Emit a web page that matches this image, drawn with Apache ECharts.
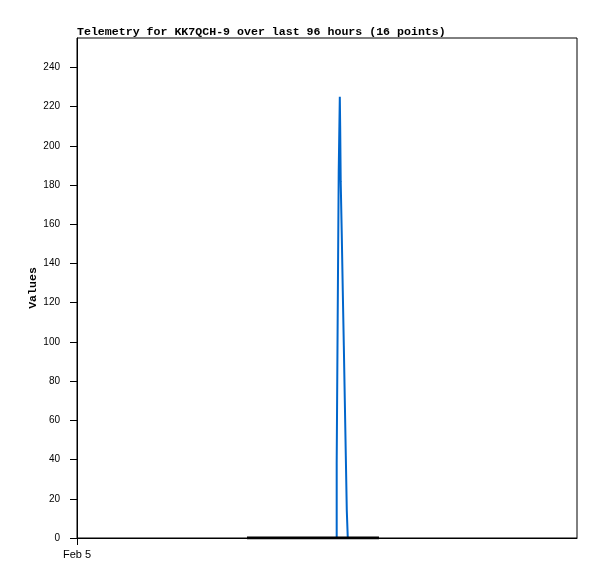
<!DOCTYPE html>
<html>
<head>
<meta charset="utf-8">
<script src="https://cdn.jsdelivr.net/npm/echarts@6/dist/echarts.min.js"></script>
<style>html,body{margin:0;padding:0;background:#fff;}#c{width:597px;height:579px;}</style>
</head>
<body>
<div id="c"></div>
<script>
// hours since window start (Feb 5)
const hours = [32.64, 40.9, 49.86, 50.05, 50.25, 50.46, 50.53, 50.63, 50.84, 51.03, 51.23, 51.42, 51.61, 51.80, 51.99, 57.98];
const blueValues = [0, 0, 38, 112, 187, 225, 210, 182, 154, 126, 98, 70, 42, 14, 0, 0];
const blackValues = [0, 0, 0, 0, 0, 0, 0, 0, 0, 0, 0, 0, 0, 0, 0, 0];
const xLabels = {0: 'Feb 5'};
const titleText = 'Telemetry for KK7QCH-9 over last 96 hours (16 points)';
const yName = 'Values';

const chart = echarts.init(document.getElementById('c'), null, {renderer: 'canvas'});
chart.setOption({
  animation: false,
  backgroundColor: '#fff',
  title: {
    text: titleText, left: 72, top: 21,
    textStyle: {fontFamily: 'Liberation Mono', fontWeight: 'bold', fontSize: 11.6, color: '#000'}
  },
  grid: {left: 77, top: 38, width: 500, height: 500, show: true, borderColor: '#000', borderWidth: 1, backgroundColor: 'transparent'},
  xAxis: {
    type: 'value', min: 0, max: 96, interval: 96,
    axisLine: {lineStyle: {color: '#000', width: 1}},
    axisTick: {show: true, length: 7, inside: false, customValues: [0], lineStyle: {color: '#000'}},
    axisLabel: {customValues: [0], formatter: v => xLabels[v] || '', fontFamily: 'Liberation Sans', fontSize: 11, color: '#000', margin: 11},
    splitLine: {show: false}
  },
  yAxis: {
    type: 'value', min: 0, max: 255, interval: 20,
    name: yName, nameLocation: 'middle', nameGap: 38, nameMoveOverlap: false,
    nameTextStyle: {fontFamily: 'Liberation Mono', fontWeight: 'bold', fontSize: 11.6, color: '#000'},
    axisLine: {show: true, lineStyle: {color: '#000', width: 1}},
    axisTick: {show: true, length: 7, lineStyle: {color: '#000'}},
    axisLabel: {showMaxLabel: false, formatter: v => (v % 20 === 0 ? String(v) : ''), fontFamily: 'Liberation Sans', fontSize: 10, color: '#000', margin: 17},
    splitLine: {show: false}
  },
  series: [
    {
      type: 'line', step: 'end', symbol: 'none',
      data: hours.map((h, i) => [h, blueValues[i]]),
      lineStyle: {color: '#0066cc', width: 2}
    },
    {
      type: 'line', symbol: 'none',
      data: hours.map((h, i) => [h, blackValues[i]]),
      lineStyle: {color: '#000', width: 3}
    }
  ]
});
</script>
</body>
</html>
